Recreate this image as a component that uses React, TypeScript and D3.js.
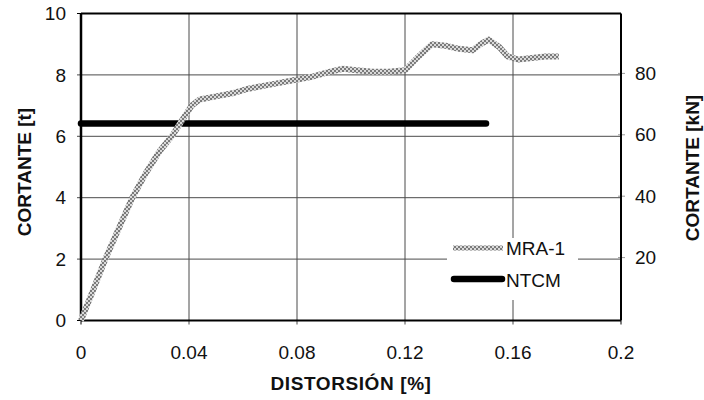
import React from "react";
import * as d3 from "d3";

const distortion = [0, 0.005, 0.009, 0.014, 0.019, 0.024, 0.029, 0.034, 0.038, 0.041, 0.044, 0.05, 0.056, 0.062, 0.068, 0.074, 0.08, 0.086, 0.092, 0.097, 0.102, 0.108, 0.114, 0.12, 0.125, 0.13, 0.135, 0.14, 0.145, 0.148, 0.151, 0.155, 0.158, 0.162, 0.167, 0.172, 0.177];
const cortanteMRA = [0, 1.1, 2.0, 3.0, 4.0, 4.8, 5.5, 6.05, 6.6, 7.0, 7.2, 7.3, 7.4, 7.55, 7.65, 7.75, 7.85, 7.95, 8.1, 8.2, 8.15, 8.1, 8.1, 8.15, 8.6, 9.0, 8.95, 8.85, 8.8, 9.0, 9.15, 8.9, 8.6, 8.5, 8.55, 8.6, 8.6];
const ntcmDistortion = [0, 0.15];
const ntcmCortante = [6.42, 6.42];

const xTicks = [0, 0.04, 0.08, 0.12, 0.16, 0.2];
const xTickLabels = ["0", "0.04", "0.08", "0.12", "0.16", "0.2"];
const yTicks = [0, 2, 4, 6, 8, 10];
const yTickLabels = ["0", "2", "4", "6", "8", "10"];
const kNTicks = [20, 40, 60, 80];
const kNTickLabels = ["20", "40", "60", "80"];
const seriesNames = ["MRA-1", "NTCM"];

const L = 81, R = 621, T = 13.5, B = 320.5;
const FONT = "'Liberation Sans', Arial, sans-serif";

export default function App() {
  const x = d3.scaleLinear().domain([0, 0.2]).range([L, R]);
  const y = d3.scaleLinear().domain([0, 10]).range([B, T]);
  const yKN = d3.scaleLinear().domain([0, 100]).range([B - 1.5, T - 1.5]);

  const line = d3.line<[number, number]>().x(d => x(d[0])).y(d => y(d[1]));
  const mraPath = line(distortion.map((d, i) => [d, cortanteMRA[i]] as [number, number])) || "";
  const ntcmPath = line(ntcmDistortion.map((d, i) => [d, ntcmCortante[i]] as [number, number])) || "";

  return (
    <svg width={704} height={400} style={{ position: "absolute", left: 0, top: 0, display: "block", background: "#fff" }}>
      <defs>
        <pattern id="checker" width={4} height={4} patternUnits="userSpaceOnUse">
          <rect x={0} y={0} width={4} height={4} fill="#dadada" />
          <rect x={0} y={0} width={2} height={2} fill="#7a7a7a" />
          <rect x={2} y={2} width={2} height={2} fill="#7a7a7a" />
        </pattern>
      </defs>
      <rect x={0} y={0} width={704} height={400} fill="#fff" />
      {/* gridlines */}
      {xTicks.slice(1, -1).map(t => (
        <line key={"gx" + t} x1={x(t)} x2={x(t)} y1={T} y2={B + 4} stroke="#4a4a4a" strokeWidth={1} />
      ))}
      {yTicks.slice(1, -1).map(t => (
        <line key={"gy" + t} x1={L - 4} x2={R} y1={y(t)} y2={y(t)} stroke="#4a4a4a" strokeWidth={1} />
      ))}
      {/* ticks */}
      <line x1={L} x2={L} y1={B} y2={B + 4} stroke="#000" strokeWidth={1} />
      <line x1={R} x2={R} y1={B} y2={B + 4} stroke="#000" strokeWidth={1} />
      <line x1={L - 4} x2={L} y1={B} y2={B} stroke="#000" strokeWidth={1} />
      <line x1={L - 4} x2={L} y1={T} y2={T} stroke="#000" strokeWidth={1} />
      {kNTicks.map(t => (
        <line key={"kt" + t} x1={R - 3} x2={R + 4} y1={yKN(t)} y2={yKN(t)} stroke="#999" strokeWidth={1} />
      ))}
      {/* frame */}
      <line x1={L} x2={R} y1={T} y2={T} stroke="#000" strokeWidth={2} />
      <line x1={R} x2={R} y1={T} y2={B} stroke="#000" strokeWidth={2} />
      <line x1={L} x2={R} y1={B} y2={B} stroke="#000" strokeWidth={2.2} />
      <line x1={L} x2={L} y1={T} y2={B} stroke="#000" strokeWidth={2.5} />
      {/* legend background */}
      <rect x={447} y={238} width={131} height={62} fill="#fff" />
      {/* series */}
      <path d={ntcmPath} fill="none" stroke="#000" strokeWidth={6.5} strokeLinecap="round" />
      <path d={mraPath} fill="none" stroke="url(#checker)" strokeWidth={6} strokeLinejoin="round" />
      {/* legend */}
      <line x1={453} x2={503} y1={248} y2={248} stroke="url(#checker)" strokeWidth={5} />
      <line x1={454} x2={502} y1={279} y2={279} stroke="#000" strokeWidth={6.5} strokeLinecap="round" />
      <g fontFamily={FONT} fontSize={19} fill="#111">
        <text x={506} y={248} dy="0.35em">{seriesNames[0]}</text>
        <text x={506} y={280} dy="0.35em">{seriesNames[1]}</text>
        {/* x tick labels */}
        {xTicks.map((t, i) => (
          <text key={"xl" + t} x={x(t)} y={359} textAnchor="middle">{xTickLabels[i]}</text>
        ))}
        {/* y tick labels */}
        {yTicks.map((t, i) => (
          <text key={"yl" + t} x={66} y={y(t)} dy="0.35em" textAnchor="end">{yTickLabels[i]}</text>
        ))}
        {kNTicks.map((t, i) => (
          <text key={"kl" + t} x={635} y={yKN(t)} dy="0.35em" textAnchor="start">{kNTickLabels[i]}</text>
        ))}
      </g>
      <g fontFamily={FONT} fontSize={19} fontWeight="bold" fill="#111">
        <text x={351} y={390} textAnchor="middle" letterSpacing={0.6}>DISTORSIÓN [%]</text>
        <text transform="translate(31,172) rotate(-90)" textAnchor="middle">CORTANTE [t]</text>
        <text transform="translate(699,168) rotate(-90)" textAnchor="middle">CORTANTE [kN]</text>
      </g>
    </svg>
  );
}
